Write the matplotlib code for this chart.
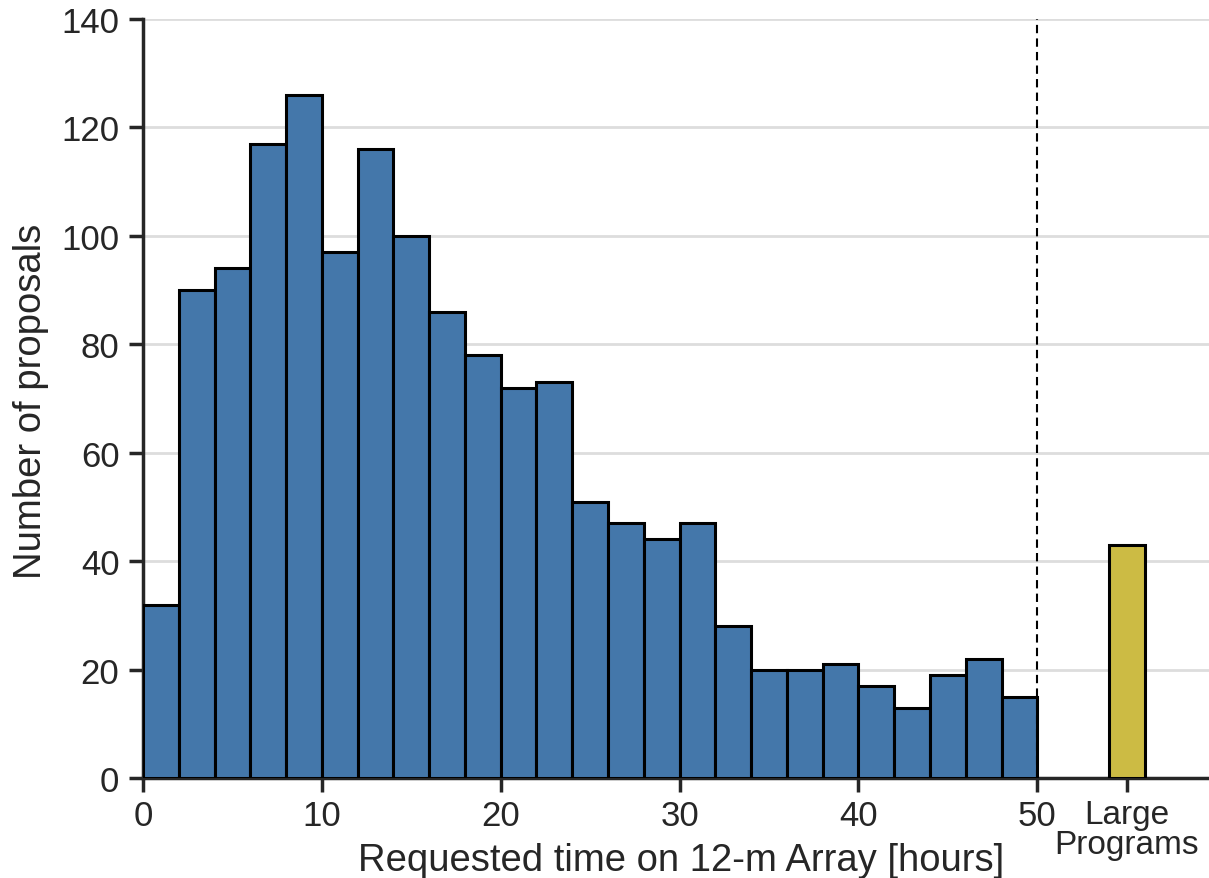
import matplotlib
matplotlib.use('Agg')
import matplotlib.pyplot as plt
import numpy as np

plt.rcParams['font.family'] = ['Liberation Sans', 'DejaVu Sans']

# histogram of requested time, 2-hour bins from 0 to 50
bin_edges = np.arange(0, 52, 2)
counts = [32, 90, 94, 117, 126, 97, 116, 100, 86, 78, 72, 73, 51,
          47, 44, 47, 28, 20, 20, 21, 17, 13, 19, 22, 15]
large_pos = 55
large_count = 43

xticks = [0, 10, 20, 30, 40, 50, 55]
xticklabels = ['0', '10', '20', '30', '40', '50', 'Large\nPrograms']

fig = plt.figure(figsize=(12.09, 8.79), dpi=100)
ax = fig.add_axes([143 / 1209, 1 - 779 / 879, 1066 / 1209, 759 / 879])

ax.bar(bin_edges[:-1], counts, width=2, align='edge', color='#4477aa',
       edgecolor='black', linewidth=2.2, zorder=3)
ax.bar(large_pos, large_count, width=2, color='#ccbb44',
       edgecolor='black', linewidth=2.2, zorder=3)
ax.axvline(50, color='black', linestyle=(0, (4, 2.5)), linewidth=1.5, zorder=4)

ax.set_xlim(0, 59.6)
ax.set_ylim(0, 140)
ax.set_yticks(np.arange(0, 141, 20))
ax.set_xticks(xticks)
ax.set_xticklabels(xticklabels, linespacing=0.95)
ax.get_xticklabels()[-1].set_fontsize(24)
ax.yaxis.grid(True, color='#dddddd', linewidth=2, zorder=0)
ax.set_axisbelow(True)

for s in ['top', 'right']:
    ax.spines[s].set_visible(False)
for s in ['left', 'bottom']:
    ax.spines[s].set_linewidth(2.5)
    ax.spines[s].set_color('#262626')
ax.tick_params(axis='both', labelsize=25, width=2.5, length=10,
               color='#262626', labelcolor='#262626')
ax.tick_params(axis='y', pad=7)
ax.tick_params(axis='x', pad=5)
ax.get_xticklabels()[-1].set_fontsize(24)

ax.set_xlabel('Requested time on 12-m Array [hours]', fontsize=27.5,
              color='#262626')
ax.xaxis.set_label_coords(0.505, -0.084)
ax.set_ylabel('Number of proposals', fontsize=27.5, color='#262626')
ax.yaxis.set_label_coords(-0.088, 0.498)

fig.savefig('out.png', dpi=100)
